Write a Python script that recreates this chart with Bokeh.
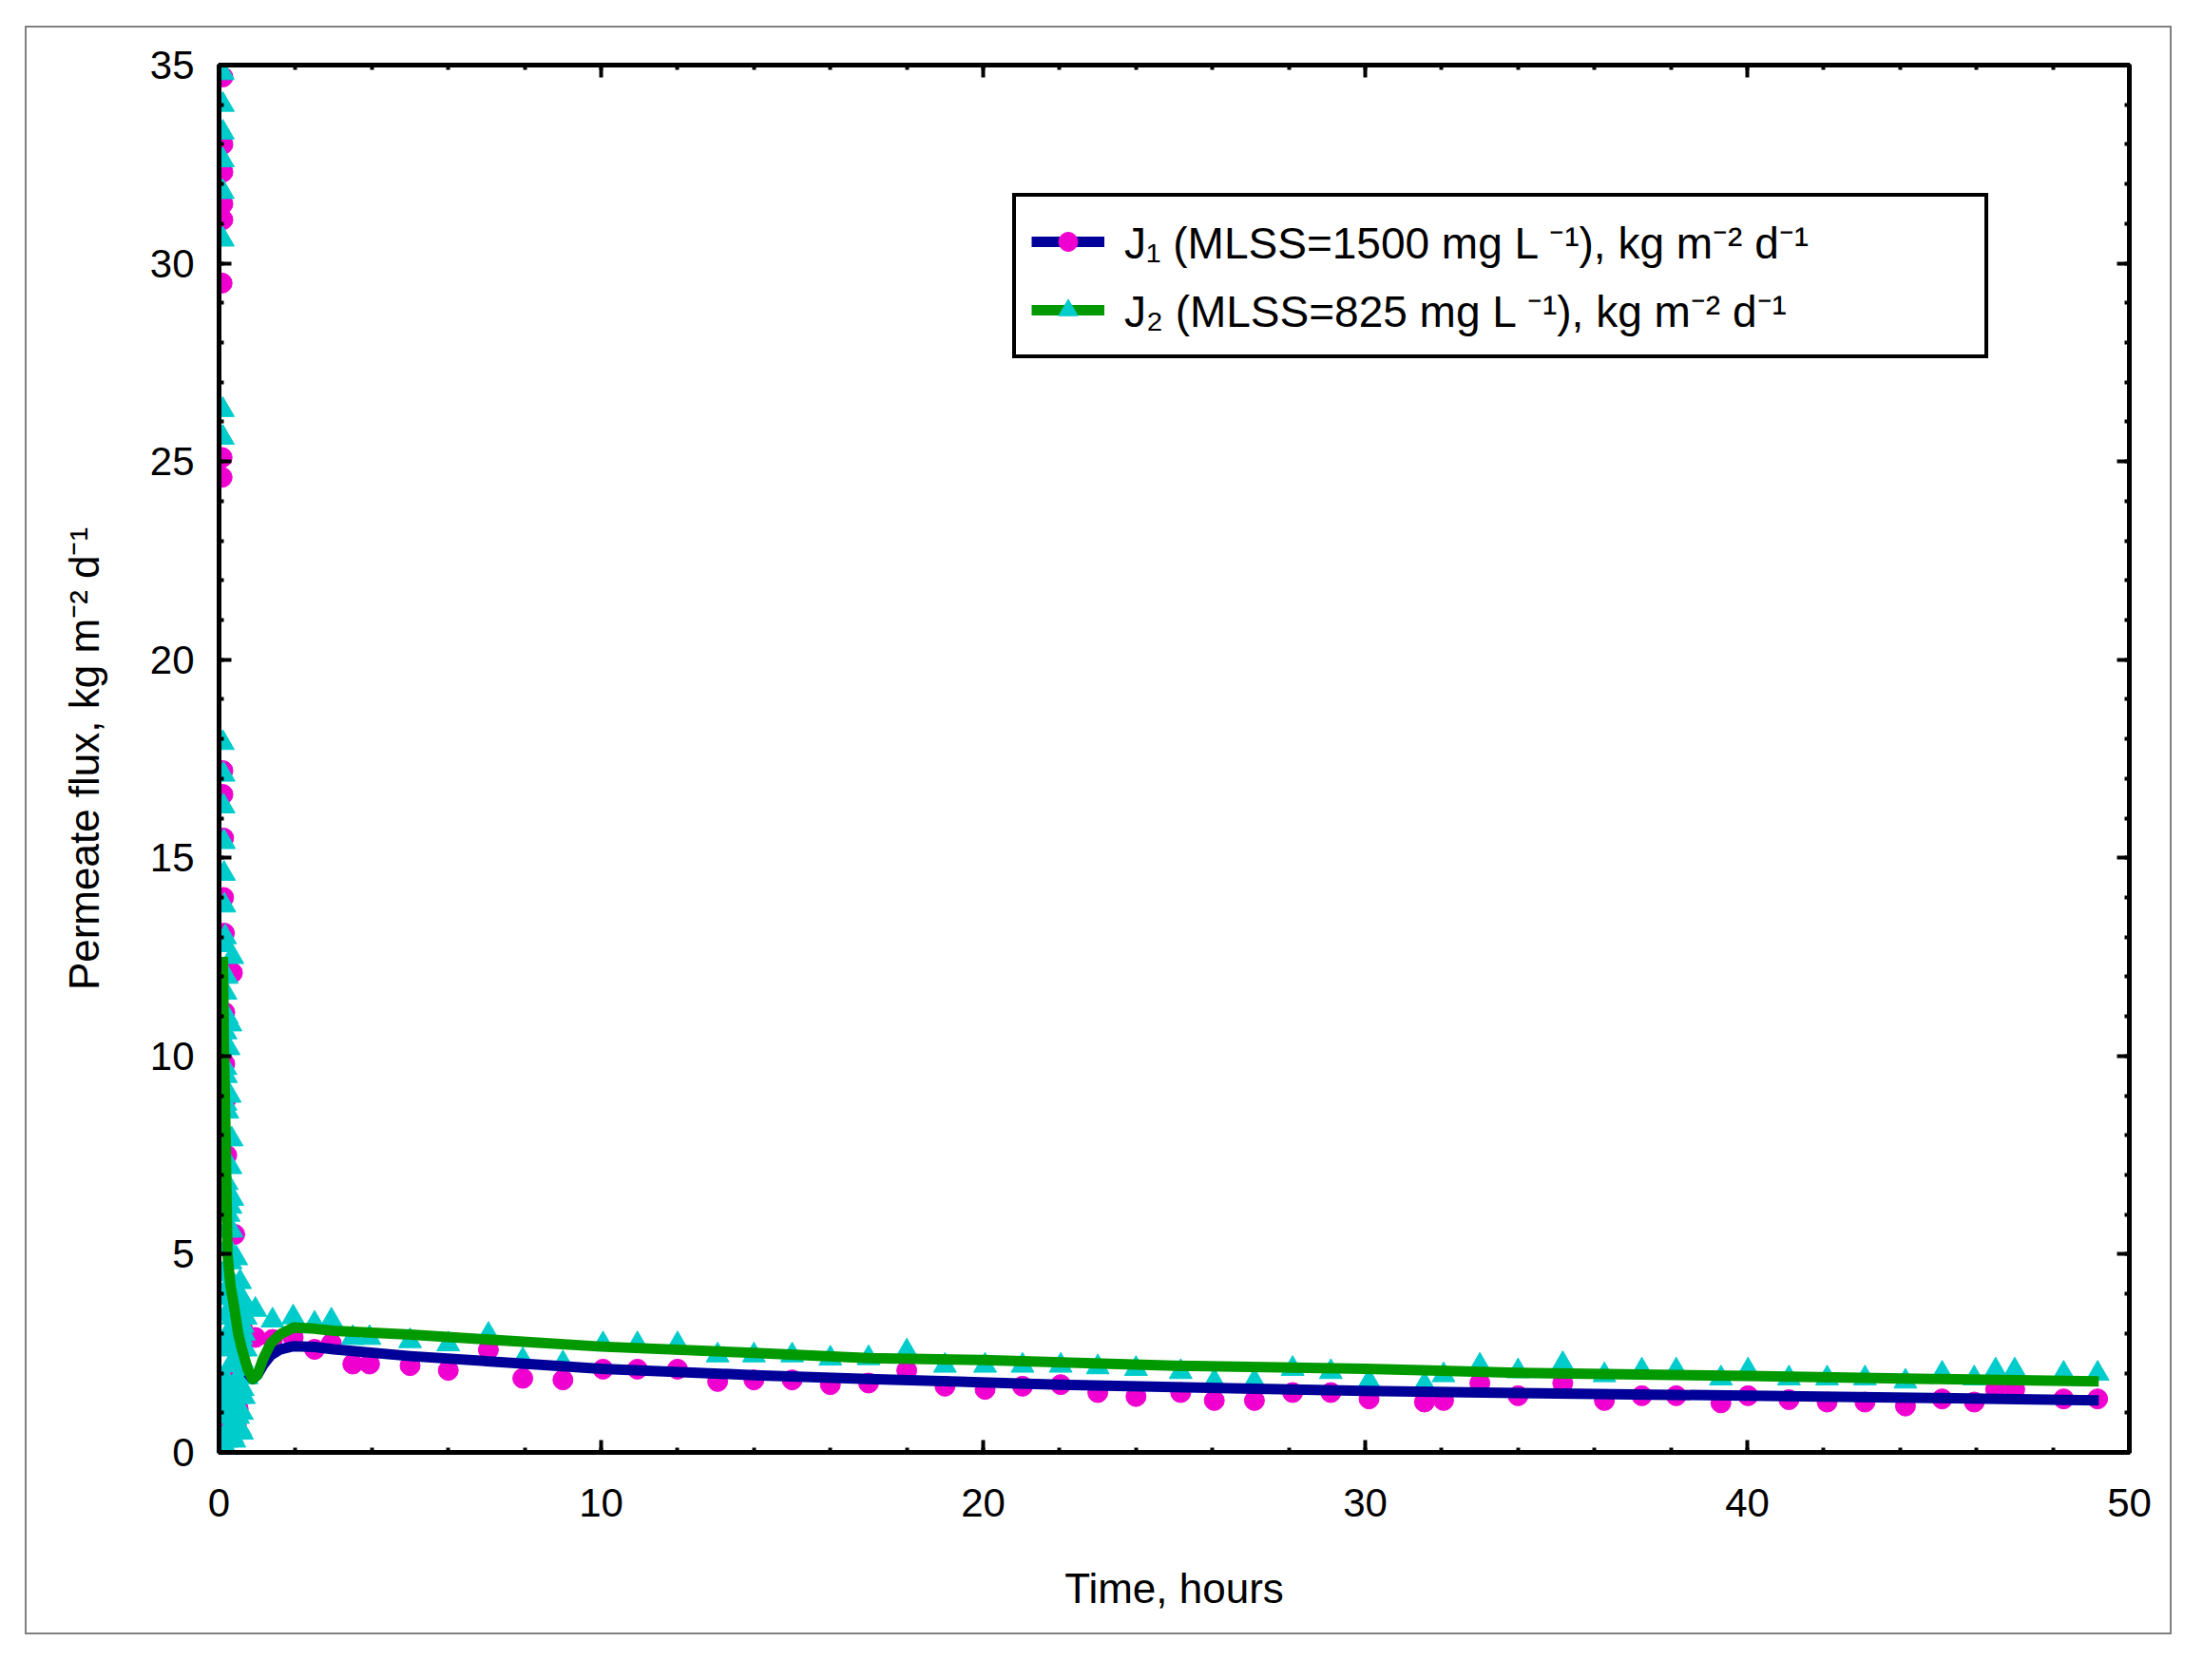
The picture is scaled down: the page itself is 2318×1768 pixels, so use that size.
from bokeh.plotting import figure
from bokeh.models import (Range1d, LinearAxis, SingleIntervalTicker, Legend,
                          LegendItem, InlineStyleSheet)
from bokeh.embed import file_html
from bokeh.resources import INLINE

# ---------------- data ----------------
# dense start-up samples (first hour)
t1_early = [0.10, 0.10, 0.10, 0.10, 0.10, 0.08, 0.08, 0.08, 0.10, 0.10, 0.12, 0.12,
            0.14, 0.35, 0.15, 0.15, 0.18, 0.20, 0.41, 0.62, 0.50, 0.35, 0.20, 0.05,
            0.45, 0.25, 0.12, 0.30]
j1_early = [34.7, 33.0, 32.3, 31.5, 31.1, 29.5, 25.1, 24.6, 17.2, 16.6, 15.5, 14.0,
            13.1, 12.1, 11.1, 9.8, 8.9, 7.5, 5.5, 3.1, 1.1, 0.8, 0.6, 0.1,
            0.7, 1.0, 1.6, 2.0]

t2_early = [0.10, 0.10, 0.10, 0.10, 0.10, 0.10, 0.10, 0.10, 0.10, 0.12, 0.12, 0.13,
            0.13, 0.14, 0.16, 0.35, 0.17, 0.17, 0.17, 0.17, 0.20, 0.30, 0.35, 0.33,
            0.45, 0.55, 0.65, 0.62, 0.55, 0.65, 0.50, 0.40, 0.25, 0.12, 0.30, 0.20,
            0.40, 0.30, 0.15, 0.50, 0.10, 0.22,
            0.25, 0.35, 0.45, 0.60, 0.55, 0.20, 0.30, 0.45, 0.15, 0.65, 0.60, 0.50,
            0.40, 0.30, 0.25, 0.20, 0.28, 0.25, 0.20, 0.12, 0.65, 0.55, 0.35, 0.05,
            0.20, 0.40, 0.60, 0.20, 0.50, 0.35, 0.62, 0.25, 0.45, 0.20, 0.58, 0.35,
            0.15, 0.55, 0.30, 0.20, 0.30, 0.15, 0.33, 0.22, 0.18, 0.30, 0.20, 0.15,
            0.70, 0.70, 0.72]
j2_early = [34.8, 34.0, 33.3, 32.6, 31.8, 30.6, 26.3, 25.6, 17.9, 17.1, 16.3, 15.4,
            14.6, 13.8, 13.0, 12.5, 11.6, 10.6, 9.7, 8.8, 8.0, 7.2, 6.4, 5.6,
            4.9, 4.3, 3.8, 3.2, 2.6, 2.0, 1.4, 0.9, 0.6, 0.2, 2.2, 3.5,
            3.0, 1.5, 1.2, 2.3, 4.5, 5.2,
            3.9, 3.4, 2.8, 1.0, 0.6, 1.8, 2.8, 1.8, 2.6, 3.0, 2.3, 3.5,
            4.2, 4.8, 6.0, 6.8, 9.0, 10.2, 11.0, 8.0, 1.4, 3.7, 0.4, 0.0,
            0.3, 0.3, 0.5, 0.9, 0.9, 1.3, 1.6, 1.6, 2.2, 2.9, 2.9, 3.2,
            3.9, 3.9, 4.3, 5.6, 6.2, 7.3, 7.9, 8.6, 9.5, 10.8, 12.0, 12.8,
            2.6, 3.4, 1.9]

# roughly hourly measurements afterwards
t_hours = [0.95, 1.4, 1.94, 2.5, 2.94, 3.5, 3.94, 5.0, 6.0, 7.05, 7.95, 9.0, 10.05,
           10.95, 12.0, 13.05, 14.0, 15.0, 16.0, 17.0, 18.0, 19.0, 20.05, 21.03,
           22.03, 23.0, 24.0, 25.17, 26.05, 27.1, 28.1, 29.1, 30.1, 31.55, 32.05,
           33.0, 34.0, 35.17, 36.26, 37.24, 38.14, 39.31, 40.02, 41.09, 42.09,
           43.08, 44.14, 45.1, 45.94, 46.5, 47.0, 48.28, 49.17]
j1_hours = [2.9, 2.85, 2.9, 2.6, 2.75, 2.23, 2.23, 2.19, 2.07, 2.59, 1.87, 1.83, 2.1,
            2.1, 2.1, 1.79, 1.83, 1.83, 1.71, 1.75, 2.07, 1.67, 1.59, 1.67,
            1.71, 1.51, 1.41, 1.51, 1.31, 1.31, 1.51, 1.51, 1.35, 1.27, 1.31,
            1.75, 1.43, 1.75, 1.31, 1.43, 1.43, 1.25, 1.43, 1.33, 1.27,
            1.27, 1.17, 1.35, 1.27, 1.59, 1.59, 1.35, 1.35]
j2_hours = [3.6, 3.33, 3.41, 3.25, 3.33, 2.89, 2.89, 2.81, 2.73, 2.97, 2.33, 2.25, 2.73,
            2.73, 2.73, 2.45, 2.45, 2.45, 2.37, 2.38, 2.55, 2.19, 2.19, 2.19,
            2.19, 2.15, 2.11, 2.03, 1.79, 1.79, 2.11, 2.03, 1.79, 1.71, 1.95,
            2.19, 2.05, 2.23, 1.95, 2.07, 2.07, 1.87, 2.07, 1.87, 1.87,
            1.87, 1.79, 1.99, 1.87, 2.07, 2.07, 1.99, 1.99]

# model curves
t_model2 = [0.10, 0.13, 0.17, 0.22, 0.30, 0.39, 0.50, 0.60, 0.75, 0.88, 1.0, 1.15, 1.35,
            1.6, 1.95, 2.5, 3.0, 5.0, 10.0, 14.0, 17.0, 20.0, 25.0, 30.0, 34.0, 40.0,
            45.0, 49.2]
j2_model = [12.5, 10.0, 8.0, 5.0, 4.2, 3.7, 3.0, 2.6, 2.1, 1.85, 1.95, 2.35, 2.75,
            2.98, 3.15, 3.12, 3.07, 2.97, 2.67, 2.51, 2.38, 2.33, 2.19, 2.11, 2.01, 1.93,
            1.85, 1.79]
t_model1 = [0.75, 0.88, 1.0, 1.15, 1.35, 1.6, 1.95, 2.5, 3.0, 5.0, 10.0, 14.0, 17.0,
            22.0, 30.0, 34.0, 40.0, 45.0, 49.2]
j1_model = [2.0, 1.85, 1.95, 2.2, 2.45, 2.6, 2.68, 2.66, 2.6, 2.43, 2.11, 1.95, 1.85,
            1.71, 1.55, 1.5, 1.43, 1.37, 1.31]

label1 = "J\u2081 (MLSS=1500 mg L \u207b\u00b9), kg m\u207b\u00b2 d\u207b\u00b9"
label2 = "J\u2082 (MLSS=825 mg L \u207b\u00b9), kg m\u207b\u00b2 d\u207b\u00b9"
x_title = "Time, hours"
y_title = "Permeate flux, kg m\u207b\u00b2 d\u207b\u00b9"

MAGENTA = "#F000D0"
CYAN = "#00CCCC"
BLUE = "#000099"
GREEN = "#009900"
FONT = "Liberation Sans"

# ---------------- figure ----------------
p = figure(frame_width=2010, frame_height=1460,
           x_range=Range1d(0, 50), y_range=Range1d(0, 35),
           output_backend="svg", toolbar_location=None,
           min_border_left=230, min_border_right=62,
           min_border_top=68, min_border_bottom=224,
           background_fill_color="white", border_fill_color=None)
p.xgrid.visible = False
p.ygrid.visible = False
p.outline_line_color = "black"
p.outline_line_width = 5

# thin grey frame round the whole chart
p.stylesheets = [InlineStyleSheet(css="""
:host { position: relative; }
:host::after {
  content: ""; position: absolute; box-sizing: border-box;
  left: 26px; top: 27px; width: 2259px; height: 1693px;
  border: 2px solid #808080; pointer-events: none; z-index: 10;
}
""")]

xt = SingleIntervalTicker(interval=10, num_minor_ticks=5)
yt = SingleIntervalTicker(interval=5, num_minor_ticks=5)
p.below[0].ticker = xt
p.left[0].ticker = yt
p.add_layout(LinearAxis(ticker=xt), "above")
p.add_layout(LinearAxis(ticker=yt), "right")

for ax in p.axis:
    ax.axis_line_width = 5
    ax.axis_line_color = "black"
    ax.major_tick_in = 13
    ax.major_tick_out = 0
    ax.minor_tick_in = 5
    ax.minor_tick_out = 0
    ax.major_tick_line_width = 4
    ax.minor_tick_line_width = 4
    ax.major_label_text_font = FONT
    ax.major_label_text_font_size = "42px"
    ax.major_label_text_color = "black"
    ax.axis_label_text_font = FONT
    ax.axis_label_text_font_size = "44px"
    ax.axis_label_text_font_style = "normal"
    ax.axis_label_text_color = "black"

for ax in p.above + p.right:
    ax.major_label_text_color = None
    ax.major_label_standoff = 0

bx = p.below[0]
ly = p.left[0]
bx.axis_label = x_title
ly.axis_label = y_title
bx.major_label_standoff = 38
bx.axis_label_standoff = 48
ly.major_label_standoff = 26
ly.axis_label_standoff = 42

# markers
p.scatter(t1_early, j1_early, marker="circle", size=21, color=MAGENTA)
r_circ = p.scatter(t_hours, j1_hours, marker="circle", size=21, color=MAGENTA)
p.scatter(t2_early, j2_early, marker="triangle", size=24, color=CYAN)
r_tri = p.scatter(t_hours, j2_hours, marker="triangle", size=24, color=CYAN)

# model lines
r_blue = p.line(t_model1, j1_model, line_width=11, color=BLUE, line_join="round")
r_green = p.line(t_model2, j2_model, line_width=11, color=GREEN, line_join="round")

legend = Legend(items=[LegendItem(label=label1, renderers=[r_blue, r_circ]),
                       LegendItem(label=label2, renderers=[r_green, r_tri])],
                location=(835, 1151), orientation="vertical",
                glyph_width=77, glyph_height=50, label_standoff=21,
                padding=16, spacing=10, label_width=889, margin=0,
                border_line_color="black", border_line_width=4,
                border_line_alpha=1.0,
                background_fill_color="white", background_fill_alpha=1.0,
                label_text_font=FONT, label_text_font_size="46px",
                label_text_color="black")
p.add_layout(legend)

open("out.html", "w").write(file_html(p, INLINE))
